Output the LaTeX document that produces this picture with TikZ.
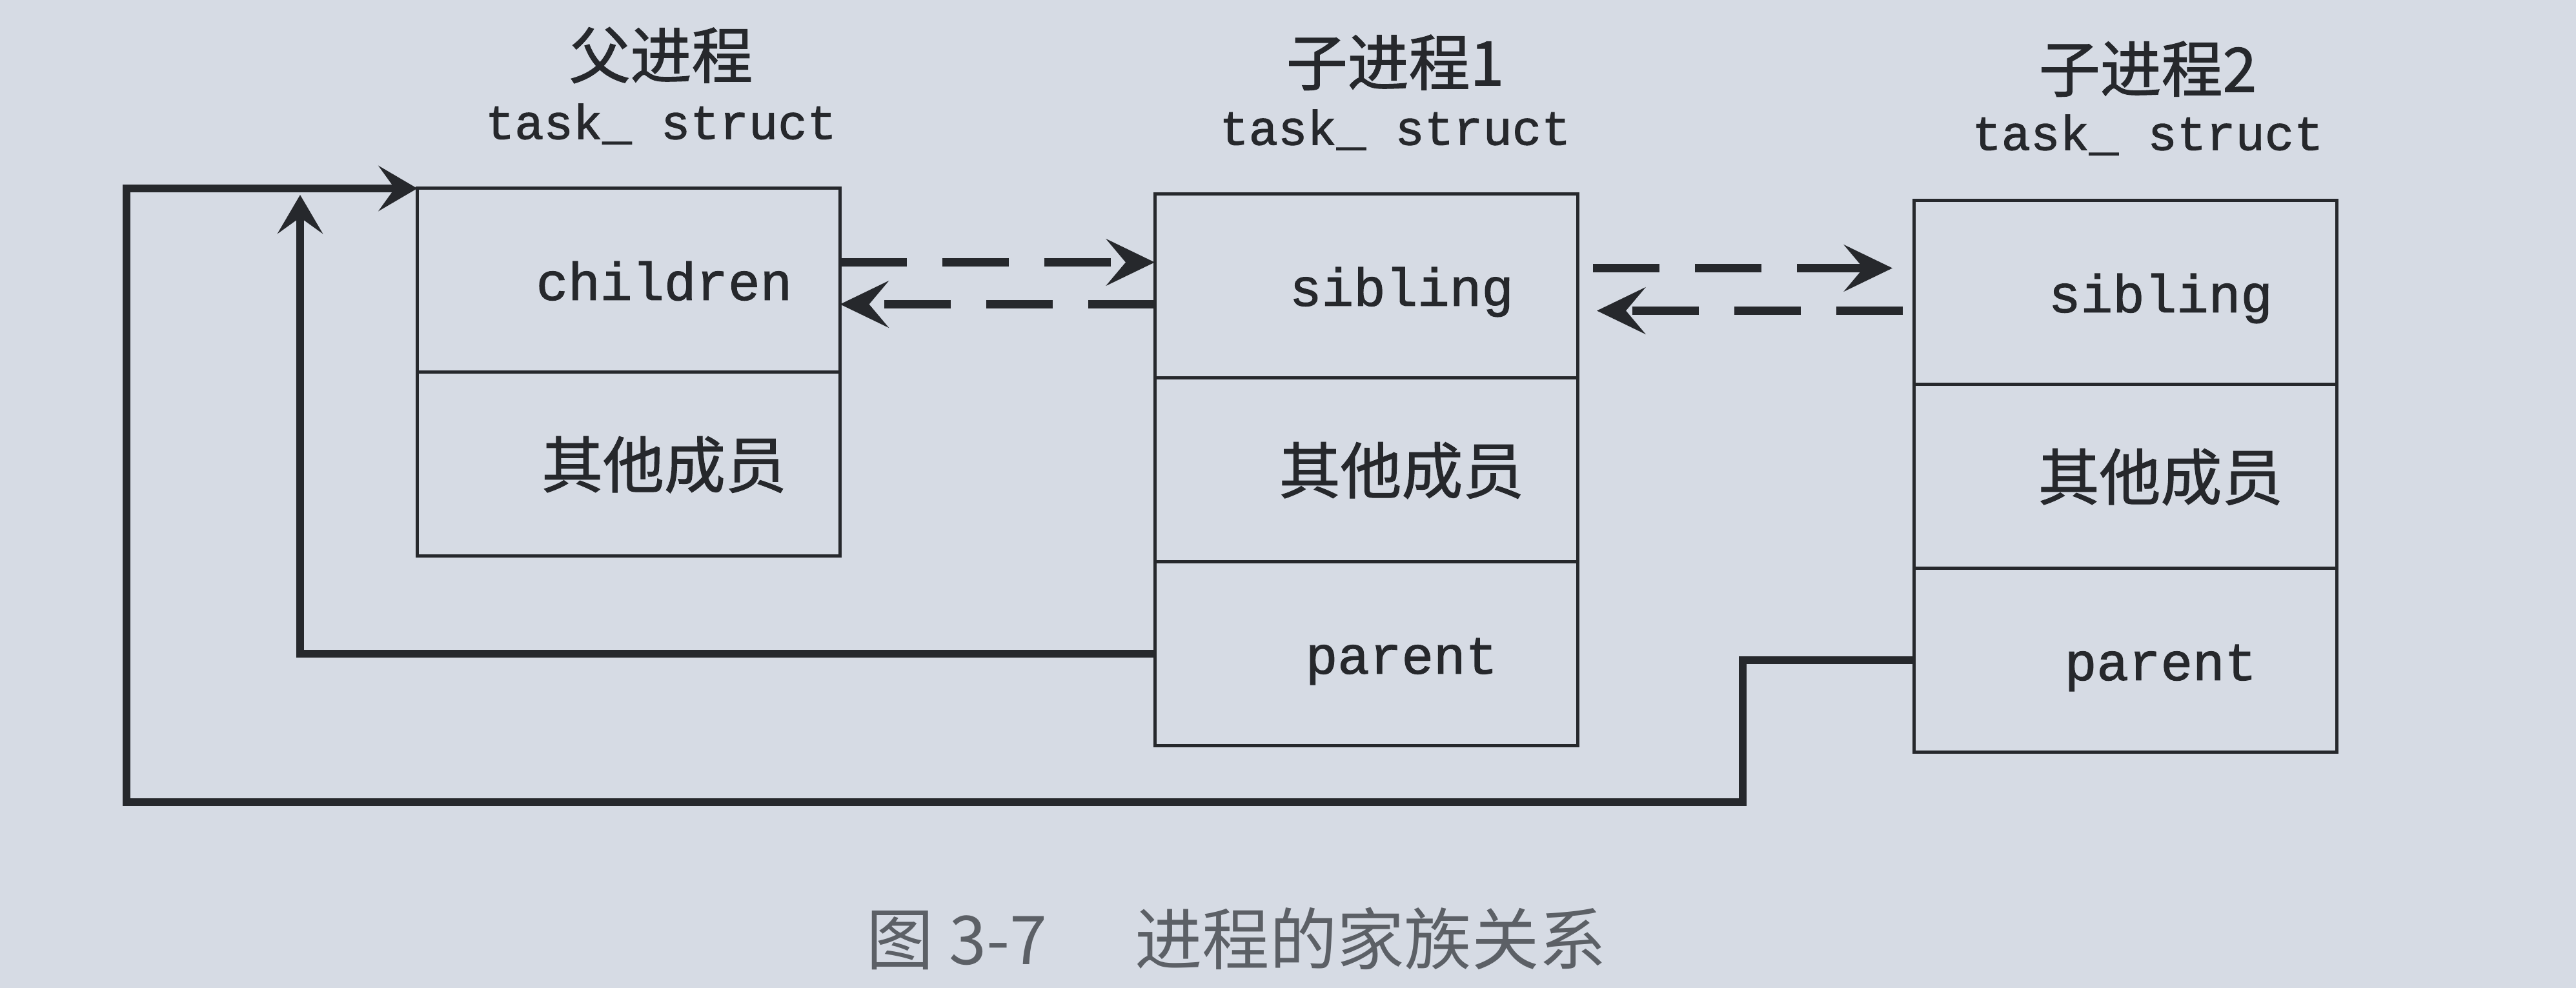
\documentclass[tikz,border=0pt]{standalone}
\usepackage{fontspec}
\newfontfamily\typew[FakeBold=1.4]{Liberation Mono}
\newfontfamily\cjk{Noto Sans CJK SC}
\newfontfamily\cjkheavy[FakeBold=1.2]{Noto Sans CJK SC}
\usetikzlibrary{arrows.meta,positioning}
\definecolor{paper}{RGB}{214,219,228}
\definecolor{ink}{RGB}{38,40,44}
\definecolor{capgray}{RGB}{92,96,102}
\tikzset{
  field/.style={
      rectangle,
      draw=ink,
      line width=0.5mm,
      outer sep=0pt,
      minimum width=6.55cm,
      minimum height=2.85cm,
      text=ink,
      execute at begin node=\hspace*{1.1cm}
  },
  ttlabel/.style={font=\fontsize{23.5}{26}\selectfont\typew,text height=19pt,text depth=1.7pt},
  hzlabel/.style={font=\fontsize{27}{30}\selectfont\cjkheavy,text height=23.8pt,text depth=3.2pt},
  headline/.style={text=ink,font=\fontsize{27}{30}\selectfont\cjkheavy,text height=23.8pt,text depth=3.2pt},
  structname/.style={text=ink,font=\fontsize{21.5}{24}\selectfont\typew,text height=13pt,text depth=1.4pt},
  link/.style={draw=ink,line width=1.2mm},
  dlink/.style={
      link,
      line width=1.3mm,
      dash pattern=on 10.3mm off 5.5mm,
      -{Stealth[length=7.5mm,width=7.2mm,inset=3mm]}
  }
}

\begin{document}
\begin{tikzpicture}[>={Stealth[length=6mm,width=7mm,inset=2.5mm]}]
    \fill[paper] (0,0) rectangle (39.91,-15.31);
    \useasboundingbox (0,0) rectangle (39.91,-15.31);

    \node[field,ttlabel] (pchildren) at (9.74,-4.345) {children};
    \node[field,hzlabel,below=0pt of pchildren] (pother) {其他成员};
    \node[structname] (ptask) at ([xshift=5mm,yshift=9.7mm]pchildren.north) {task\_ struct};
    \node[headline] (ptitle) at ([yshift=11mm]ptask) {父进程};

    \node[field,ttlabel] (c1sib) at (21.165,-4.435) {sibling};
    \node[field,hzlabel,below=0pt of c1sib] (c1other) {其他成员};
    \node[field,ttlabel,below=0pt of c1other] (c1par) {parent};
    \node[structname] (c1task) at ([xshift=4.5mm,yshift=9.7mm]c1sib.north) {task\_ struct};
    \node[headline] (c1title) at ([yshift=10.8mm]c1task) {子进程1};

    \node[field,ttlabel] (c2sib) at (32.925,-4.535) {sibling};
    \node[field,hzlabel,below=0pt of c2sib] (c2other) {其他成员};
    \node[field,ttlabel,below=0pt of c2other] (c2par) {parent};
    \node[structname] (c2task) at ([xshift=3.5mm,yshift=9.9mm]c2sib.north) {task\_ struct};
    \node[headline] (c2title) at ([yshift=10.6mm]c2task) {子进程2};

    \node[text=capgray,font=\fontsize{29.7}{33}\selectfont\cjk,text height=26.1pt,text depth=3.6pt] (caption) at (19.16,-14.55) {图 3-7\hspace{1.3em}进程的家族关系};

    \coordinate (innertip) at (4.65,-3.02);
    \coordinate (kink) at (27.00,-12.43);
    \coordinate (outer) at (1.96,-12.43);

    \draw[link,->] (c1par.west) -| (innertip);
    \draw[link,->] (c2par.west) -- (c2par.west -| kink) |- (outer) |- (pchildren.north west);

    \draw[dlink] ([yshift=2.8mm]pchildren.east) -- ([yshift=2.8mm]pchildren.east -| c1sib.west);
    \draw[dlink] ([yshift=-2.8mm]c1sib.west) -- ([yshift=-2.8mm]c1sib.west -| pchildren.east);
    \draw[dlink,shorten <=2.4mm,shorten >=3.3mm] ([yshift=2.8mm]c1sib.east) -- ([yshift=2.8mm]c1sib.east -| c2sib.west);
    \draw[dlink,shorten <=1.7mm,shorten >=3mm] ([yshift=-2.8mm]c2sib.west) -- ([yshift=-2.8mm]c2sib.west -| c1sib.east);
\end{tikzpicture}
\end{document}
